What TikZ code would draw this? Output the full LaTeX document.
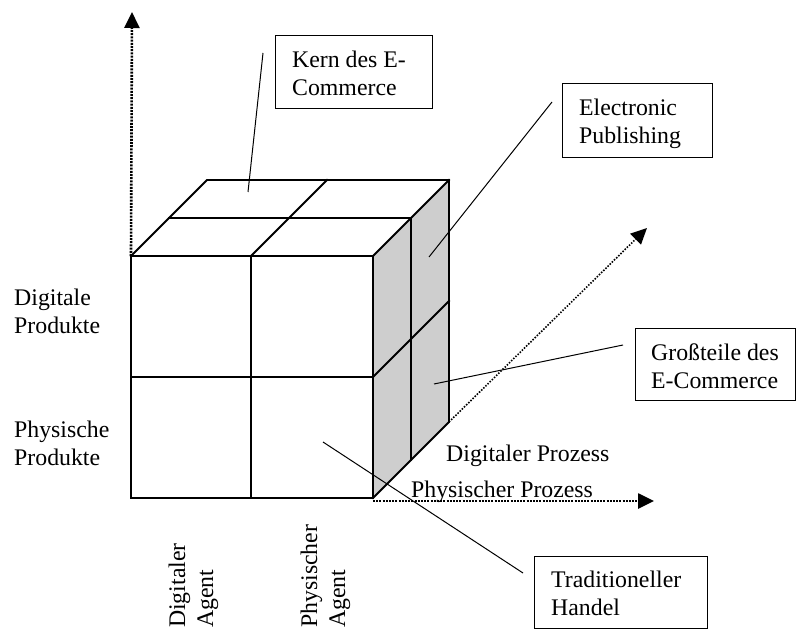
\documentclass[tikz,border=0pt]{standalone}
\usepackage{fontspec}
\setmainfont{Liberation Serif}
\usetikzlibrary{arrows.meta}
\definecolor{sidegray}{RGB}{206,206,206}
\begin{document}
\begin{tikzpicture}[x=1pt,y=-1pt,
  txt/.style={font=\fontsize{23.8}{28}\selectfont, inner sep=0pt, align=left, anchor=north west},
  cubeline/.style={line width=1.8pt, line join=miter, line cap=rect},
  leader/.style={line width=1pt},
  labelbox/.style={draw, line width=1.2pt, inner sep=0pt, anchor=north west},
  axisline/.style={line width=2.6pt, dash pattern=on 2pt off 1.2pt,
    -{Triangle[length=16pt,width=15pt]}},
  depthaxis/.style={line width=1.6pt, dash pattern=on 1.5pt off 1.5pt,
    -{Triangle[length=16pt,width=15pt]}}
]
\useasboundingbox (0,0) rectangle (798,631);

% cube corners
\coordinate (FTL) at (131,256);
\coordinate (FTR) at (373,256);
\coordinate (FBL) at (131,498);
\coordinate (FBR) at (373,498);
\coordinate (BTL) at (207,180);
\coordinate (BTR) at (449,180);
\coordinate (BBR) at (449,422);
% grid division points
\coordinate (FMT) at (251,256);
\coordinate (FMB) at (251,498);
\coordinate (FML) at (131,377);
\coordinate (FMR) at (373,377);
\coordinate (TMB) at (327,180);
\coordinate (TML) at (169,218);
\coordinate (TMR) at (411,218);
\coordinate (SMB) at (411,460);
\coordinate (SMR) at (449,301);

% axis ends
\coordinate (vtip) at (132,12);
\coordinate (hstart) at (373,501);
\coordinate (htip) at (654,501);
\coordinate (dtip) at (647,228);

% axes
\draw[axisline] (FTL) -- (vtip);
\draw[axisline] (hstart) -- (htip);
\draw[depthaxis] (BBR) -- (dtip);

% shaded side face
\fill[sidegray] (FTR) -- (BTR) -- (BBR) -- (FBR) -- cycle;

% cube edges
\draw[cubeline] (FTL) rectangle (FBR);
\draw[cubeline] (FTL) -- (BTL) -- (BTR) -- (BBR) -- (FBR);
\draw[cubeline] (FTR) -- (BTR);
\draw[cubeline] (FMT) -- (FMB);
\draw[cubeline] (FML) -- (FMR);
\draw[cubeline] (FMT) -- (TMB);
\draw[cubeline] (TML) -- (TMR) -- (SMB);
\draw[cubeline] (FMR) -- (SMR);

% axis labels
\node[txt] (digprod) at (14,288) {\rule{0pt}{17pt}Digitale\\Produkte};
\node[txt] (physprod) at (14,420) {\rule{0pt}{17pt}Physische\\Produkte};
\node[txt, rotate=90] (digagent) at (168,628) {\rule{0pt}{17pt}Digitaler\\Agent};
\node[txt, rotate=90] (physagent) at (300,628) {\rule{0pt}{17pt}Physischer\\Agent};
\node[txt] (digproz) at (446,444) {\rule{0pt}{17pt}Digitaler Prozess};
\node[txt] (physproz) at (411,480) {\rule{0pt}{17pt}Physischer Prozess};

% label boxes
\node[labelbox, minimum width=157pt, minimum height=73pt] (kernbox) at (275,35) {};
\node[txt] (kern) at (292,50) {\rule{0pt}{17pt}Kern des E-\\Commerce};
\node[labelbox, minimum width=150pt, minimum height=74pt] (elecbox) at (562,83) {};
\node[txt] (elec) at (579,98) {\rule{0pt}{17pt}Electronic\\Publishing};
\node[labelbox, minimum width=160pt, minimum height=72pt] (grossbox) at (635,328) {};
\node[txt] (gross) at (651,343) {\rule{0pt}{17pt}Großteile des\\E-Commerce};
\node[labelbox, minimum width=173pt, minimum height=72pt] (tradbox) at (534,556) {};
\node[txt] (trad) at (551,570) {\rule{0pt}{17pt}Traditioneller\\Handel};

% leader lines
\coordinate (kernA) at (263,53);   \coordinate (kernB) at (248,192);
\coordinate (elecA) at (552,102);  \coordinate (elecB) at (429,257);
\coordinate (grossA) at (623,345); \coordinate (grossB) at (434,384);
\coordinate (tradA) at (523,573);  \coordinate (tradB) at (323,442);
\draw[leader] (kernA) -- (kernB);
\draw[leader] (elecA) -- (elecB);
\draw[leader] (grossA) -- (grossB);
\draw[leader] (tradA) -- (tradB);
\end{tikzpicture}
\end{document}
